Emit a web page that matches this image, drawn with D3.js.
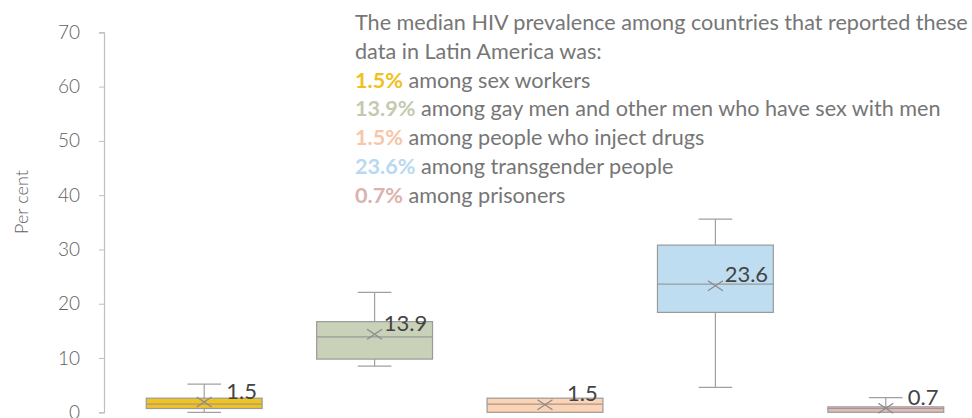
<!DOCTYPE html>
<html>
<head>
<meta charset="utf-8">
<script src="https://cdn.jsdelivr.net/npm/d3@7"></script>
<style>
  html, body { margin: 0; padding: 0; background: #fff; }
  svg { display: block; }
</style>
</head>
<body>
<svg id="chart" width="972" height="418"></svg>
<script>
const categories = ["Sex workers", "Gay men and other men who have sex with men", "People who inject drugs", "Transgender people", "Prisoners"];
const mins    = [0,   8.5,  0,   4.6,  0];
const q1s     = [0.7, 9.8,  0,   18.4, 0];
const medians = [1.5, 13.9, 1.5, 23.6, 0.7];
const q3s     = [2.6, 16.7, 2.6, 30.8, 1.0];
const maxs    = [5.2, 22.1, 2.6, 35.6, 2.7];
const means   = [1.9, 14.4, 1.4, 23.3, 0.75];
const labels  = ["1.5", "13.9", "1.5", "23.6", "0.7"];
const yTicks  = [0, 10, 20, 30, 40, 50, 60, 70];
const fills   = ["#F2C31C", "#C9D1B9", "#FDD3B4", "#BEDDF1", "#E4BAB7"];
const noteColors = ["#EFC01E", "#C2CBB0", "#F8C6A6", "#B8D9F0", "#DCB2AE"];
const noteIntro = ["The median HIV prevalence among countries that reported these", "data in Latin America was:"];
const notePct  = ["1.5%", "13.9%", "1.5%", "23.6%", "0.7%"];
const noteText = [" among sex workers", " among gay men and other men who have sex with men", " among people who inject drugs", " among transgender people", " among prisoners"];

const svg = d3.select("#chart");
const FONT = "Lato, 'Noto Sans', sans-serif";

const y = d3.scaleLinear().domain([0, 70]).range([412.3, 32.3]);
const x = d3.scaleBand().domain(categories).range([119, 971]).paddingInner(0.32).paddingOuter(0.16);

// Y axis
const yAxis = d3.axisLeft(y).tickValues(yTicks).tickSize(5).tickPadding(19);
const ag = svg.append("g").attr("transform", "translate(104,0)").call(yAxis);
ag.select(".domain").attr("stroke", "#BFBFBF").attr("stroke-width", 1.2);
ag.selectAll(".tick line").attr("stroke", "#BFBFBF");
ag.selectAll(".tick text").attr("fill", "#606060").style("font-family", FONT).style("font-size", "19px").style("font-weight", 300);

svg.append("text")
  .attr("transform", "translate(28,202) rotate(-90)")
  .attr("text-anchor", "middle")
  .attr("fill", "#606060")
  .style("font-family", FONT).style("font-size", "18px").style("font-weight", 300)
  .text("Per cent");

const data = categories.map((c, i) => ({c, i, min: mins[i], q1: q1s[i], med: medians[i], q3: q3s[i], max: maxs[i], mean: means[i], label: labels[i], fill: fills[i]}));

const g = svg.append("g");
const bw = x.bandwidth();
const capW = bw * 0.29;
const stroke = "#A0A0A0";

data.forEach(d => {
  const cx = x(d.c) + bw / 2;
  const gg = g.append("g");
  if (d.max > d.q3) {
    gg.append("line").attr("x1", cx).attr("x2", cx).attr("y1", y(d.q3)).attr("y2", y(d.max)).attr("stroke", stroke).attr("stroke-width", 1.2);
    gg.append("line").attr("x1", cx - capW / 2).attr("x2", cx + capW / 2).attr("y1", y(d.max)).attr("y2", y(d.max)).attr("stroke", stroke).attr("stroke-width", 1.2);
  }
  if (d.min < d.q1) {
    gg.append("line").attr("x1", cx).attr("x2", cx).attr("y1", y(d.q1)).attr("y2", y(d.min)).attr("stroke", stroke).attr("stroke-width", 1.2);
    gg.append("line").attr("x1", cx - capW / 2).attr("x2", cx + capW / 2).attr("y1", y(d.min)).attr("y2", y(d.min)).attr("stroke", stroke).attr("stroke-width", 1.2);
  }
  gg.append("rect")
    .attr("x", x(d.c)).attr("width", bw)
    .attr("y", y(d.q3)).attr("height", Math.max(1, y(d.q1) - y(d.q3)))
    .attr("fill", d.fill).attr("stroke", "#9A9A9A").attr("stroke-width", 1.2);
  gg.append("line").attr("x1", x(d.c)).attr("x2", x(d.c) + bw).attr("y1", y(d.med)).attr("y2", y(d.med)).attr("stroke", "#9A9A9A").attr("stroke-width", 1.2);
  const my = y(d.mean), mw = 7.5, mh = 5;
  gg.append("path")
    .attr("d", `M${cx - mw},${my - mh}L${cx + mw},${my + mh}M${cx - mw},${my + mh}L${cx + mw},${my - mh}`)
    .attr("stroke", "#8A8A8A").attr("stroke-width", 1.2).attr("fill", "none");
  gg.append("text")
    .attr("x", cx + bw * 0.455).attr("y", my - 9)
    .attr("text-anchor", "end")
    .attr("dominant-baseline", "middle")
    .attr("fill", "#444444")
    .style("font-family", FONT).style("font-size", "22px").style("font-weight", 400)
    .text(d.label);
});

// Annotation
const note = svg.append("g").style("font-family", FONT).style("font-size", "20px").style("font-weight", 400);
const lineH = 28.8;
const nx = 355, ny = 30;
const introNodes = noteIntro.map((t, k) =>
  note.append("text").attr("x", nx).attr("y", ny + k * lineH).attr("fill", "#767676").text(t));
notePct.forEach((p, k) => {
  const t = note.append("text").attr("x", nx).attr("y", ny + (k + 2) * lineH).attr("fill", "#767676");
  t.append("tspan").attr("fill", noteColors[k]).style("font-weight", "bold").text(p);
  t.append("tspan").text(noteText[k]);
});
// fit first line to the available width (ends at the right edge)
const w0 = introNodes[0].node().getComputedTextLength();
const fs = 20 * 613 / w0;
note.style("font-size", fs.toFixed(2) + "px");
</script>
</body>
</html>
